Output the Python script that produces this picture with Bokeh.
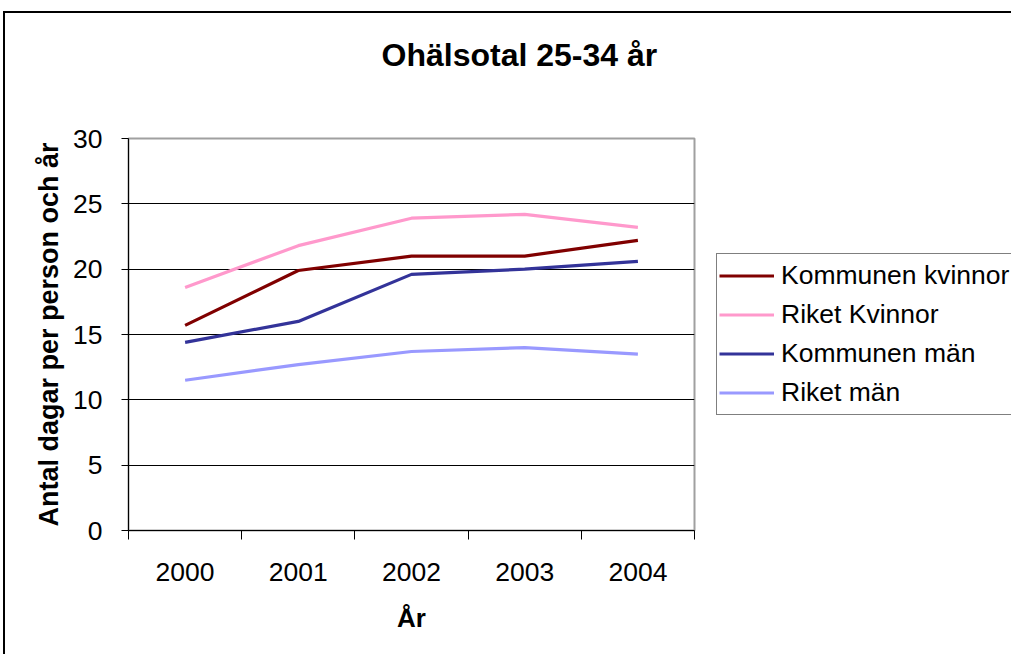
from bokeh.plotting import figure
from bokeh.models import Range1d, FixedTicker, Legend, LegendItem, InlineStyleSheet
from bokeh.embed import file_html
from bokeh.resources import INLINE

years = ["2000", "2001", "2002", "2003", "2004"]
kommunen_kvinnor = [15.7, 19.9, 21.0, 21.0, 22.2]
riket_kvinnor = [18.6, 21.8, 23.9, 24.2, 23.2]
kommunen_man = [14.4, 16.0, 19.6, 20.0, 20.6]
riket_man = [11.5, 12.7, 13.7, 14.0, 13.5]
y_ticks = [0, 5, 10, 15, 20, 25, 30]

series = [
    ("Kommunen kvinnor", kommunen_kvinnor, "#800000"),
    ("Riket Kvinnor", riket_kvinnor, "#FF99CC"),
    ("Kommunen män", kommunen_man, "#333399"),
    ("Riket män", riket_man, "#9999FF"),
]

FONT = "Liberation Sans"
pos = [i + 1 for i in range(len(years))]

p = figure(frame_width=566, frame_height=392, output_backend="svg", toolbar_location=None,
           x_range=Range1d(0.5, len(years) + 0.5), y_range=Range1d(0, 30),
           min_border_left=128, min_border_right=317, min_border_top=138,
           min_border_bottom=124)

# trailing empty line lifts the title to where the reference has it
p.title.text = "Ohälsotal 25-34 år\n"
p.title.text_font = FONT
p.title.text_font_size = "32px"
p.title.text_font_style = "bold"
p.title.text_color = "black"
p.title.align = "left"
p.title.offset = 253
p.title.standoff = 60

items = []
for name, vals, color in series:
    r = p.line(pos, vals, line_color=color, line_width=3.2)
    items.append(LegendItem(label=name, renderers=[r]))

# axes
p.xaxis.ticker = FixedTicker(ticks=pos, minor_ticks=[x - 0.5 for x in pos] + [pos[-1] + 0.5])
p.xaxis.major_label_overrides = {x: y for x, y in zip(pos, years)}
p.xaxis.major_tick_line_color = None
p.xaxis.major_tick_out = 9
p.xaxis.major_tick_in = 0
p.xaxis.minor_tick_out = 9
p.xaxis.minor_tick_in = 0
p.xaxis.minor_tick_line_color = "black"
p.xaxis.axis_label = "År"

p.yaxis.ticker = FixedTicker(ticks=y_ticks)
p.yaxis.major_tick_out = 7
p.yaxis.major_tick_in = 0
p.yaxis.minor_tick_line_color = None
p.yaxis.axis_label = "Antal dagar per person och år"

for ax in (p.xaxis[0], p.yaxis[0]):
    ax.axis_line_color = "black"
    ax.axis_line_width = 1
    ax.major_label_text_font = FONT
    ax.major_label_text_font_size = "26.5px"
    ax.major_label_text_color = "black"
    ax.axis_label_text_font = FONT
    ax.axis_label_text_font_style = "bold"
    ax.axis_label_text_color = "black"
p.xaxis.major_label_standoff = 23
p.yaxis.major_label_standoff = 19
p.xaxis.axis_label_text_font_size = "26px"
p.yaxis.axis_label_text_font_size = "27px"
p.xaxis.axis_label_standoff = 19
p.yaxis.axis_label_standoff = 6

p.xgrid.grid_line_color = None
p.ygrid.grid_line_color = "black"
p.ygrid.grid_line_width = 1

p.outline_line_color = "#a0a0a0"
p.outline_line_width = 2
p.background_fill_color = "white"
p.border_fill_color = "white"

legend = Legend(items=items, location=(22, 115))
legend.label_text_font = FONT
legend.label_text_font_size = "26.5px"
legend.label_text_color = "black"
legend.label_height = 39
legend.glyph_height = 39
legend.glyph_width = 55
legend.label_standoff = 7
legend.padding = 2
legend.spacing = 0
legend.margin = 0
legend.border_line_color = "black"
legend.border_line_width = 1
legend.background_fill_alpha = 1
p.add_layout(legend, "right")

# outer chart-area border: only its top and left edges fall inside the window
p.stylesheets = [InlineStyleSheet(css="""
:host::after {
  content: "";
  position: fixed;
  left: 3px; top: 11px; right: -60px; bottom: -60px;
  border: 0 none;
  border-top: 2px solid #000;
  border-left: 2px solid #000;
  pointer-events: none;
}
""")]

open("out.html", "w").write(file_html(p, INLINE))
